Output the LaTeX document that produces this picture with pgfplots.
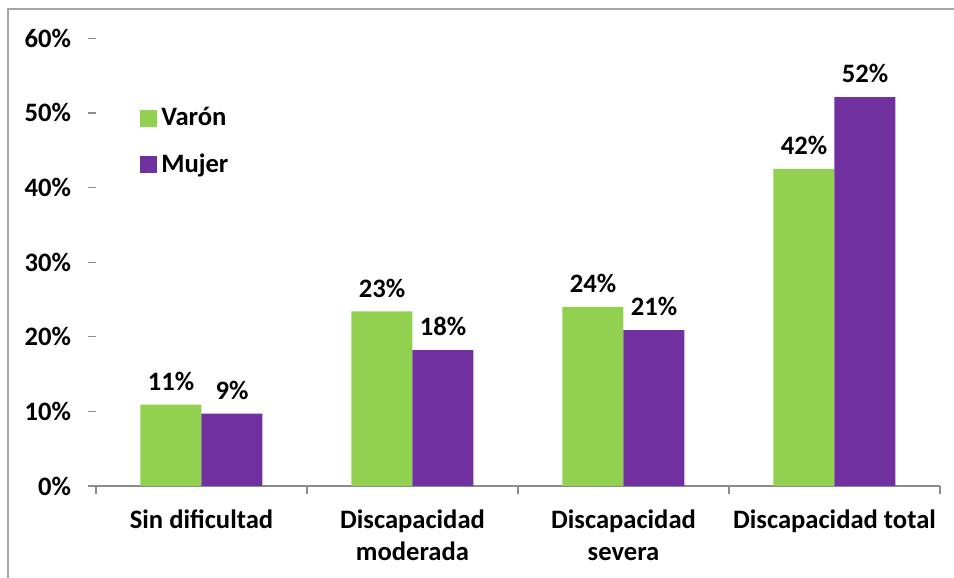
\documentclass[border=0pt]{standalone}
\usepackage{fontspec}
\setmainfont{Carlito}
\usepackage{pgfplots}
\pgfplotsset{compat=1.18}
\definecolor{varon}{HTML}{92D050}
\definecolor{mujer}{HTML}{7030A0}
\definecolor{ejes}{HTML}{8C8C8C}
\definecolor{marco}{HTML}{A6A6A6}

\begin{document}
\begin{tikzpicture}[x=1pt,y=1pt]
\useasboundingbox (0,0) rectangle (477,289);
\draw[marco, line width=0.8pt] (4,0) -- (4,284.5) -- (477,284.5);
\begin{axis}[
    at={(48pt,46pt)}, anchor=south west,
    scale only axis, width=422pt, height=223.85pt,
    xmin=-0.5, xmax=3.5, ymin=0, ymax=60,
    axis x line=bottom, axis y line=left,
    x axis line style={-, draw=ejes, line width=0.9pt},
    y axis line style={draw=none},
    ytick={0,10,...,60},
    yticklabel={\pgfmathprintnumber{\tick}\%},
    xtick={0,1,2,3},
    xticklabels={Sin dificultad,{Discapacidad\\moderada},{Discapacidad\\severa},Discapacidad total},
    minor xtick={-0.5,0.5,1.5,2.5,3.5},
    tick align=outside,
    major tick length=4pt, minor tick length=4pt,
    y tick style={draw=ejes, line width=0.6pt},
    x tick style={draw=none},
    minor x tick style={draw=ejes, line width=0.9pt},
    /pgf/number format/assume math mode=true,
    tick label style={font=\fontsize{13.3}{16}\selectfont\bfseries},
    yticklabel style={xshift=-5pt},
    xticklabel style={align=center, yshift=-4.5pt},
    ybar, bar width=30.5pt,
    point meta=explicit symbolic,
    nodes near coords={\pgfplotspointmeta\%},
    every node near coord/.append style={font=\fontsize{13.3}{15}\selectfont\bfseries, text=black, yshift=3.5pt},
    legend style={at={(0.052,0.855)}, anchor=north west, draw=none, fill=none,
        font=\fontsize{13.3}{15}\selectfont\bfseries, row sep=8.5pt, inner sep=0pt,
        /tikz/every even column/.append style={column sep=2pt}},
    legend cell align=left,
    legend image code/.code={\fill[#1] (0pt,-4.25pt) rectangle (8.5pt,4.25pt);},
]
\addplot[fill=varon, draw=none, bar shift=-15.25pt] table[x=x, y=y, meta=lab] {
x y lab
0 10.9 11
1 23.4 23
2 24.0 24
3 42.5 42
};
\addplot[fill=mujer, draw=none, bar shift=15.25pt] table[x=x, y=y, meta=lab] {
x y lab
0 9.7 9
1 18.2 18
2 20.9 21
3 52.1 52
};
\legend{Varón,Mujer}
\end{axis}
\end{tikzpicture}
\end{document}
